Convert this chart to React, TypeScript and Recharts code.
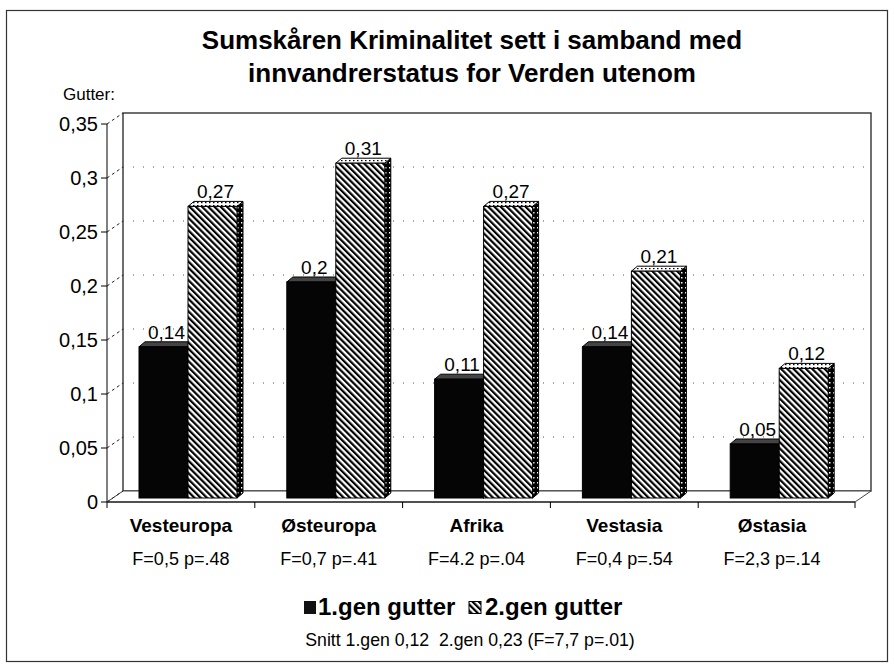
import { BarChart, Bar, XAxis, YAxis, CartesianGrid, LabelList } from "recharts";

const regions = ["Vesteuropa", "Østeuropa", "Afrika", "Vestasia", "Østasia"];
const stats = ["F=0,5 p=.48", "F=0,7 p=.41", "F=4.2 p=.04", "F=0,4 p=.54", "F=2,3 p=.14"];
const gen1 = [0.14, 0.2, 0.11, 0.14, 0.05];
const gen2 = [0.27, 0.31, 0.27, 0.21, 0.12];
const yTicks = [0, 0.05, 0.1, 0.15, 0.2, 0.25, 0.3, 0.35];
const seriesNames = ["1.gen gutter", "2.gen gutter"];

const data = regions.map((region, i) => ({ region, gen1: gen1[i], gen2: gen2[i] }));

const W = 894;
const H = 664;
// front plane of the plot, in page pixels
const PLOT = { left: 107, right: 855, top: 124, bottom: 502 };
const PAD_RIGHT = 9;
// back wall sits up and to the right of the front plane
const WALL = { dx: 16, dy: -11 };
// bars stand a little behind the front edge
const SHIFT = { dx: 7, dy: -4 };
const DEPTH = { dx: 6, dy: -5 };
const FONT = '"Liberation Sans", Arial, Helvetica, sans-serif';

const fmt = (v: number) => String(v).replace(".", ",");

function Bar3D(props: any) {
  const { x, y, width, height, kind } = props;
  if (width == null || height == null) return null;
  const fx = x + SHIFT.dx;
  const fy = y + SHIFT.dy;
  const { dx, dy } = DEPTH;
  const hatch = kind === "gen2";
  const top = `${fx},${fy} ${fx + dx},${fy + dy} ${fx + width + dx},${fy + dy} ${fx + width},${fy}`;
  const side = `${fx + width},${fy} ${fx + width + dx},${fy + dy} ${fx + width + dx},${fy + height + dy} ${fx + width},${fy + height}`;
  return (
    <g>
      <polygon points={side} fill={hatch ? "url(#dots)" : "#111"} stroke="#000" strokeWidth={1} />
      <polygon points={top} fill={hatch ? "url(#topdots)" : "#444"} stroke="#000" strokeWidth={1} />
      <rect x={fx} y={fy} width={width} height={height} fill={hatch ? "url(#hatch)" : "#050505"} stroke="#000" strokeWidth={1} />
    </g>
  );
}

function ValueLabel(props: any) {
  const { x, y, width, value } = props;
  return (
    <text
      x={x + width / 2 + SHIFT.dx + 3}
      y={y + SHIFT.dy - 8}
      textAnchor="middle"
      fontFamily={FONT}
      fontSize={19}
      fill="#000"
    >
      {fmt(value)}
    </text>
  );
}

function XTick(props: any) {
  const { x, payload } = props;
  const band = (PLOT.right - PLOT.left - PAD_RIGHT) / regions.length;
  const i = payload.index;
  return (
    <g>
      <line x1={x - band / 2} x2={x - band / 2} y1={PLOT.bottom} y2={PLOT.bottom + 6} stroke="#000" />
      {i === regions.length - 1 && (
        <line x1={PLOT.right} x2={PLOT.right} y1={PLOT.bottom} y2={PLOT.bottom + 6} stroke="#000" />
      )}
      <text x={x} y={532} textAnchor="middle" fontFamily={FONT} fontWeight="bold" fontSize={19} fill="#000">
        {payload.value}
      </text>
      <text x={x} y={565} textAnchor="middle" fontFamily={FONT} fontSize={18} fill="#000">
        {stats[i]}
      </text>
    </g>
  );
}

function YTick(props: any) {
  const { y, payload } = props;
  return (
    <g>
      <text x={PLOT.left - 9} y={y + 7} textAnchor="end" fontFamily={FONT} fontSize={20} fill="#000">
        {fmt(payload.value)}
      </text>
      <line x1={PLOT.left - 6} x2={PLOT.left} y1={y} y2={y} stroke="#000" />
      <line
        x1={PLOT.left}
        y1={y}
        x2={PLOT.left + WALL.dx}
        y2={y + WALL.dy}
        stroke="#222"
        strokeDasharray="3 3"
      />
    </g>
  );
}

function GridLine(props: any) {
  const { x1, x2, y1, y2 } = props;
  if (Math.abs(y1 - PLOT.bottom) < 1) return null;
  if (Math.abs(y1 - PLOT.top) < 1) return null;
  return (
    <line
      x1={x1 + WALL.dx}
      x2={x2 + WALL.dx}
      y1={y1 + WALL.dy}
      y2={y2 + WALL.dy}
      stroke="#555"
      strokeWidth={1}
      strokeDasharray="1 9"
    />
  );
}

function Backdrop() {
  const wl = PLOT.left + WALL.dx;
  const wr = PLOT.right + WALL.dx;
  const wt = PLOT.top + WALL.dy;
  const wb = PLOT.bottom + WALL.dy;
  return (
    <svg width={W} height={H} style={{ position: "absolute", left: 0, top: 0 }}>
      <defs>
        <pattern id="hatch" patternUnits="userSpaceOnUse" width={4.4} height={4.4} patternTransform="rotate(-45)">
          <rect width={4.4} height={4.4} fill="#fff" />
          <rect width={2.2} height={4.4} fill="#000" />
        </pattern>
        <pattern id="dots" patternUnits="userSpaceOnUse" width={4} height={5}>
          <rect width={4} height={5} fill="#000" />
          <rect x={1} y={2} width={1.5} height={1.5} fill="#fff" />
        </pattern>
        <pattern id="topdots" patternUnits="userSpaceOnUse" width={4} height={3}>
          <rect width={4} height={3} fill="#fff" />
          <rect x={1} y={1} width={1.5} height={1.2} fill="#000" />
        </pattern>
      </defs>
      <rect x={6.5} y={10.5} width={881} height={651} fill="#fff" stroke="#333" strokeWidth={1.2} />
      <text x={472} y={49} textAnchor="middle" fontFamily={FONT} fontWeight="bold" fontSize={26} fill="#000">
        Sumskåren Kriminalitet sett i samband med
      </text>
      <text x={472} y={82} textAnchor="middle" fontFamily={FONT} fontWeight="bold" fontSize={26} fill="#000">
        innvandrerstatus for Verden utenom
      </text>
      <text x={63} y={100} fontFamily={FONT} fontSize={17} fill="#000">
        Gutter:
      </text>
      <rect x={wl} y={wt} width={wr - wl} height={wb - wt} fill="#fff" stroke="#222" strokeWidth={1.3} />
      <polygon
        points={`${PLOT.left},${PLOT.bottom} ${PLOT.right},${PLOT.bottom} ${wr},${wb} ${wl},${wb}`}
        fill="#fff"
        stroke="#444"
        strokeWidth={1}
      />
      <g fontFamily={FONT} fill="#000">
        <rect x={304} y={601} width={12} height={13} fill="#111" />
        <text x={318} y={615} fontWeight="bold" fontSize={24}>
          {seriesNames[0]}
        </text>
        <rect x={469} y={601.5} width={12} height={12} fill="url(#hatch)" stroke="#000" />
        <text x={485} y={615} fontWeight="bold" fontSize={24}>
          {seriesNames[1]}
        </text>
        <text x={470} y={646} textAnchor="middle" fontSize={17.7} style={{ whiteSpace: "pre" }}>
          {"Snitt 1.gen 0,12  2.gen 0,23 (F=7,7 p=.01)"}
        </text>
      </g>
    </svg>
  );
}

export default function App() {
  return (
    <div style={{ position: "absolute", left: 0, top: 0, width: W, height: H, background: "#fff" }}>
      <Backdrop />
      <div style={{ position: "absolute", left: 0, top: 0 }}>
        <BarChart
          width={W}
          height={H}
          data={data}
          barGap={0}
          barSize={49}
          margin={{ top: PLOT.top, right: W - PLOT.right, bottom: 0, left: 0 }}
        >
          <CartesianGrid horizontal={GridLine as any} vertical={false} />
          <XAxis
            dataKey="region"
            height={H - PLOT.bottom}
            tick={<XTick />}
            tickLine={false}
            axisLine={{ stroke: "#000" }}
            interval={0}
            padding={{ left: 0, right: PAD_RIGHT }}
          />
          <YAxis
            width={PLOT.left}
            domain={[0, 0.35]}
            ticks={yTicks}
            tick={<YTick />}
            tickLine={false}
            axisLine={{ stroke: "#000" }}
            interval={0}
          />
          <Bar dataKey="gen1" name={seriesNames[0]} isAnimationActive={false} shape={(p: any) => <Bar3D {...p} kind="gen1" />}>
            <LabelList dataKey="gen1" content={<ValueLabel />} />
          </Bar>
          <Bar dataKey="gen2" name={seriesNames[1]} isAnimationActive={false} shape={(p: any) => <Bar3D {...p} kind="gen2" />}>
            <LabelList dataKey="gen2" content={<ValueLabel />} />
          </Bar>
        </BarChart>
      </div>
    </div>
  );
}
